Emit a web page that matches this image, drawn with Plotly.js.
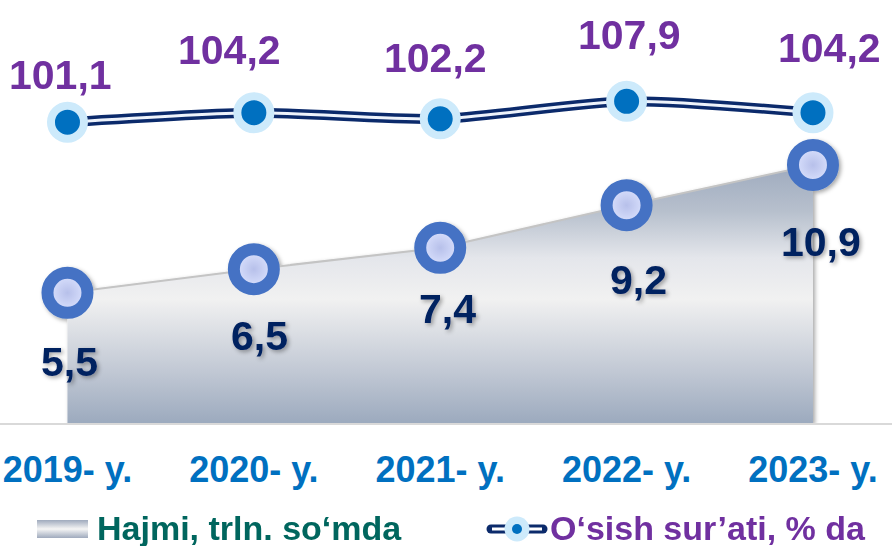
<!DOCTYPE html>
<html>
<head>
<meta charset="utf-8">
<script src="https://cdn.plot.ly/plotly-3.0.1.min.js"></script>
<style>
  html, body { margin: 0; padding: 0; background: #ffffff; }
  #chart { width: 892px; height: 546px; }
</style>
</head>
<body>
<svg width="0" height="0" style="position:absolute">
  <defs>
    <filter id="shadow" x="-20%" y="-20%" width="150%" height="150%">
      <feDropShadow dx="2" dy="2" stdDeviation="2" flood-color="#000000" flood-opacity="0.35"/>
    </filter>
    <filter id="shadowSoft" x="-20%" y="-50%" width="150%" height="250%">
      <feDropShadow dx="2" dy="-2" stdDeviation="2" flood-color="#000000" flood-opacity="0.25"/>
    </filter>
  </defs>
</svg>
<div id="chart"></div>
<script>
// ---- data ----
const years = ['2019- y.', '2020- y.', '2021- y.', '2022- y.', '2023- y.'];
const volume = [5.5, 6.5, 7.4, 9.2, 10.9];          // Hajmi, trln. so'mda
const growth = [101.1, 104.2, 102.2, 107.9, 104.2]; // O'sish sur'ati, % da
const volumeName = 'Hajmi, trln. so‘mda';
const growthName = 'O‘sish sur’ati, % da';

// ---- label offsets (px) ----
const growthLabelShift = [[-7, 47], [-24, 63], [-5, 61], [3, 66], [17, 65]];
const volumeLabelShift = [[2, -69], [6, -67], [7, -61], [12, -75], [8, -77]];

const FONT = 'Liberation Sans, Arial, Helvetica, sans-serif';
const fmt = v => v.toFixed(1).replace('.', ',');

const areaTrace = {
  x: years, y: volume, name: volumeName,
  type: 'scatter', mode: 'lines+markers',
  xaxis: 'x', yaxis: 'y',
  fill: 'tozeroy',
  fillgradient: {
    type: 'vertical',
    colorscale: [[0, '#9caabe'], [0.2, '#c1c8d4'], [0.48, '#f1f1f1'], [0.64, '#e4e6eb'], [0.82, '#b7c0cd'], [1, '#9eaabe']]
  },
  line: { color: '#c4c4c4', width: 2 },
  marker: {
    size: 40, color: '#dde4ff',
    gradient: { type: 'radial', color: '#b7c0ea' },
    line: { color: '#4472c4', width: 12 }
  },
  showlegend: false, hoverinfo: 'skip'
};

const growthOuter = {
  x: years, y: growth, name: growthName,
  type: 'scatter', mode: 'lines',
  xaxis: 'x', yaxis: 'y2',
  line: { color: '#0b2a6b', width: 10, shape: 'spline', smoothing: 0.7 },
  showlegend: false, hoverinfo: 'skip'
};
const growthInner = {
  x: years, y: growth, name: growthName,
  type: 'scatter', mode: 'lines+markers',
  xaxis: 'x', yaxis: 'y2',
  line: { color: '#eef3fb', width: 3, shape: 'spline', smoothing: 0.7 },
  marker: { size: 33, color: '#0070c0', line: { color: '#cdeafb', width: 8 } },
  showlegend: false, hoverinfo: 'skip'
};

const annotations = [];
growth.forEach((v, i) => annotations.push({
  x: years[i], y: v, xref: 'x', yref: 'y2',
  text: fmt(v), showarrow: false,
  xshift: growthLabelShift[i][0], yshift: growthLabelShift[i][1],
  font: { family: FONT, size: 41, color: '#7030a0', weight: 700 },
  xanchor: 'center', yanchor: 'middle'
}));
volume.forEach((v, i) => annotations.push({
  x: years[i], y: v, xref: 'x', yref: 'y',
  text: fmt(v), showarrow: false,
  xshift: volumeLabelShift[i][0], yshift: volumeLabelShift[i][1],
  font: { family: FONT, size: 41, color: '#002060', weight: 700 },
  xanchor: 'center', yanchor: 'middle'
}));
// legend texts
annotations.push({
  xref: 'paper', yref: 'paper', x: 95 / 892, y: (423 - 528) / 423,
  text: volumeName, showarrow: false, xanchor: 'left', yanchor: 'middle',
  font: { family: FONT, size: 34, color: '#00665e', weight: 700 }
});
annotations.push({
  xref: 'paper', yref: 'paper', x: 548 / 892, y: (423 - 528) / 423,
  text: growthName, showarrow: false, xanchor: 'left', yanchor: 'middle',
  font: { family: FONT, size: 34, color: '#7030a0', weight: 700 }
});

const iconArea = 'data:image/svg+xml;charset=utf-8,' + encodeURIComponent(
  '<svg xmlns="http://www.w3.org/2000/svg" width="51" height="18" viewBox="0 0 51 18" preserveAspectRatio="none">' +
  '<defs><linearGradient id="g" x1="0" y1="0" x2="0" y2="1">' +
  '<stop offset="0" stop-color="#9faabd"/><stop offset="0.5" stop-color="#f5f5f5"/><stop offset="1" stop-color="#9faabd"/>' +
  '</linearGradient></defs><rect x="0" y="0" width="51" height="18" fill="url(#g)"/></svg>');
const iconLine = 'data:image/svg+xml;charset=utf-8,' + encodeURIComponent(
  '<svg xmlns="http://www.w3.org/2000/svg" width="62" height="26" viewBox="0 0 62 26" preserveAspectRatio="none">' +
  '<line x1="5" y1="13" x2="57" y2="13" stroke="#0b2a6b" stroke-width="9" stroke-linecap="round"/>' +
  '<line x1="6" y1="13" x2="56" y2="13" stroke="#ffffff" stroke-width="3"/>' +
  '<circle cx="31" cy="13" r="12.5" fill="#cdeafb"/><circle cx="31" cy="13" r="5" fill="#0070c0"/></svg>');

const layout = {
  width: 892, height: 546,
  margin: { l: 0, r: 0, t: 0, b: 123, pad: 0 },
  paper_bgcolor: '#ffffff', plot_bgcolor: '#ffffff',
  showlegend: false,
  hovermode: false,
  xaxis: {
    type: 'category', range: [-0.362, 4.424],
    showgrid: false, zeroline: false,
    showline: true, linecolor: '#d9d9d9', linewidth: 2,
    ticks: '', ticklabelstandoff: 14,
    tickfont: { family: FONT, size: 36, color: '#0070c0', weight: 700 },
    fixedrange: true
  },
  yaxis: {
    range: [0, 17.87], visible: false, showgrid: false, zeroline: false, fixedrange: true
  },
  yaxis2: {
    range: [2.98, 140.96], overlaying: 'y', side: 'right',
    visible: false, showgrid: false, zeroline: false, fixedrange: true
  },
  annotations: annotations,
  images: [
    { source: iconArea, xref: 'paper', yref: 'paper', x: 37 / 892, y: (423 - 520) / 423,
      sizex: 51 / 892, sizey: 18 / 423, xanchor: 'left', yanchor: 'top', sizing: 'stretch', layer: 'above' },
    { source: iconLine, xref: 'paper', yref: 'paper', x: 486 / 892, y: (423 - 516) / 423,
      sizex: 62 / 892, sizey: 26 / 423, xanchor: 'left', yanchor: 'top', sizing: 'stretch', layer: 'above' }
  ]
};

const gd = document.getElementById('chart');
Plotly.newPlot(gd, [areaTrace, growthOuter, growthInner], layout, { staticPlot: true, displayModeBar: false })
  .then(() => {
    const areaG = gd.querySelector('.subplot.xy .scatterlayer .trace');
    if (areaG) areaG.setAttribute('filter', 'url(#shadow)');
    const y2traces = gd.querySelectorAll('.subplot.xy2 .scatterlayer .trace');
    if (y2traces[0]) y2traces[0].setAttribute('filter', 'url(#shadowSoft)');
    const ann = gd.querySelectorAll('.annotation');
    ann.forEach(a => {
      const idx = +a.getAttribute('data-index');
      if (idx >= 5 && idx < 10) a.setAttribute('filter', 'url(#shadow)');
    });
  });
</script>
</body>
</html>
